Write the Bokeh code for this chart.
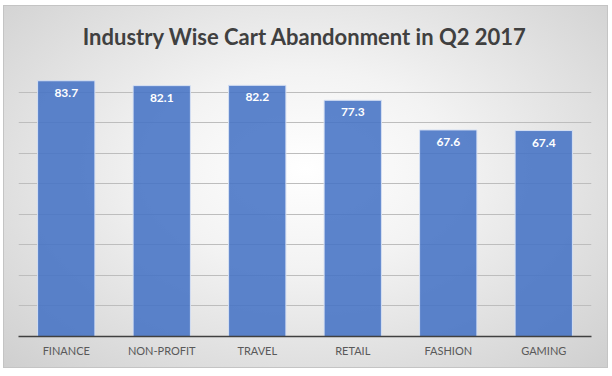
from bokeh.plotting import figure
from bokeh.models import ColumnDataSource, LabelSet
from bokeh.core.properties import value
from bokeh.embed import file_html
from bokeh.resources import INLINE

categories = ["FINANCE", "NON-PROFIT", "TRAVEL", "RETAIL", "FASHION", "GAMING"]
values = [83.7, 82.1, 82.2, 77.3, 67.6, 67.4]
labels = ["83.7", "82.1", "82.2", "77.3", "67.6", "67.4"]
title = "Industry Wise Cart Abandonment in Q2 2017"

src = ColumnDataSource(dict(cat=categories, val=values, lab=labels))

p = figure(x_range=categories, y_range=(0, 90), width=603, height=361,
           output_backend="svg", toolbar_location=None, title=title,
           min_border_left=14, min_border_right=16, min_border_top=55,
           min_border_bottom=31)
p.margin = (6, 0, 0, 4)
p.styles = {"background": "radial-gradient(ellipse at 50% 45%, #ffffff 0%, #f3f3f3 35%, #cfcfcf 100%)",
            "box-shadow": "0 0 0 1px #c4c4c4"}
p.border_fill_alpha = 0
p.background_fill_alpha = 0
p.outline_line_color = None

p.title.text_font = "Lato"
p.title.text_font_size = "22px"
p.title.text_font_style = "bold"
p.title.text_color = "#404040"
p.title.align = "center"
p.title.standoff = 23

p.vbar(x="cat", top="val", width=0.6, source=src, fill_color="#4472C4",
       fill_alpha=0.87, line_color="#d6e0f3", line_width=1)

ls = LabelSet(x="cat", y="val", text="lab", source=src, y_offset=-12,
              text_align="center", text_baseline="middle", text_color="white",
              text_font=value("Lato"), text_font_style="bold", text_font_size="12px")
p.add_layout(ls)

p.yaxis.visible = False
p.xaxis.axis_line_color = "#404040"
p.xaxis.axis_line_width = 1.3
p.xaxis.major_tick_line_color = None
p.xaxis.minor_tick_line_color = None
p.xaxis.major_label_text_font = "Lato"
p.xaxis.major_label_text_font_size = "11px"
p.xaxis.major_label_text_color = "#595959"
p.xaxis.major_label_standoff = 1
p.xgrid.grid_line_color = None
p.ygrid.grid_line_color = "#bdbdbd"
p.ygrid.ticker = [10, 20, 30, 40, 50, 60, 70, 80, 90]
p.x_range.range_padding = 0

open("out.html", "w").write(file_html(p, INLINE))
